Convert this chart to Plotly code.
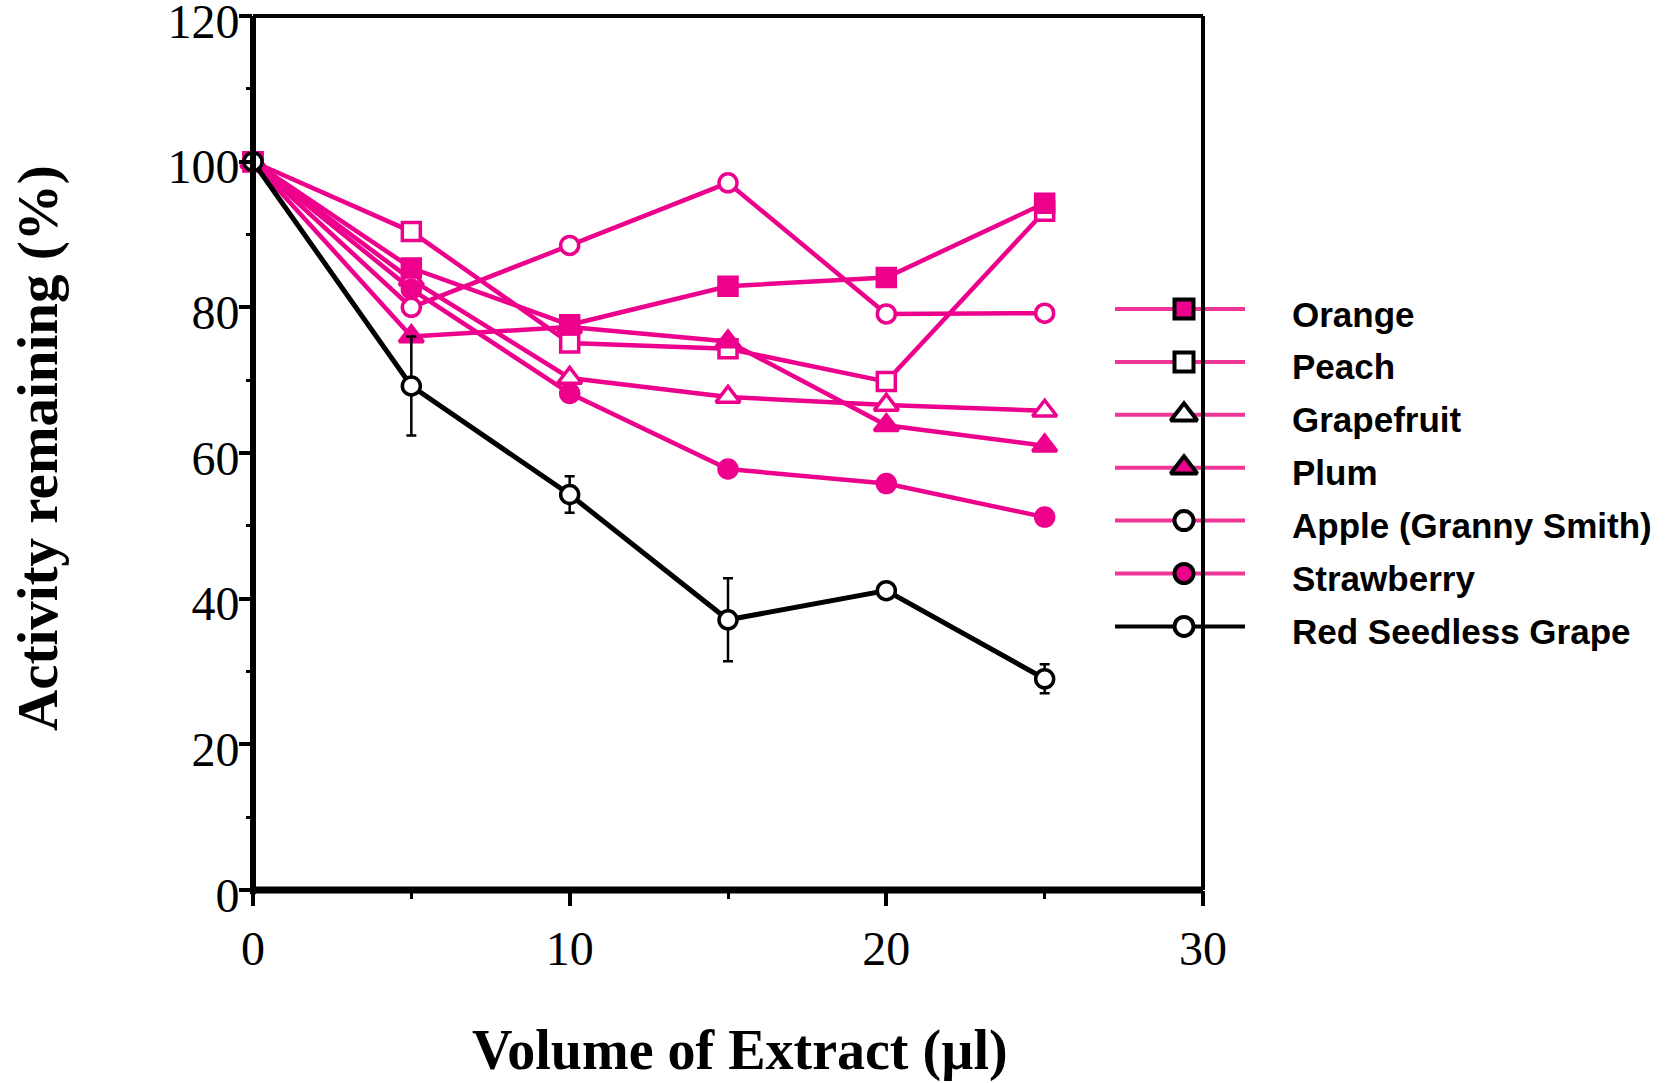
import plotly.graph_objects as go

# ---------------- data ----------------
volume = [0, 5, 10, 15, 20, 25]
orange = [100, 85.4, 77.6, 82.9, 84.1, 94.3]
peach = [100, 90.4, 75.1, 74.3, 69.8, 93.2]
grapefruit = [100, 83.8, 70.3, 67.7, 66.6, 65.8]
plum = [100, 76.0, 77.3, 75.3, 63.8, 61.0]
apple = [100, 80.0, 88.5, 97.1, 79.1, 79.2]
strawberry = [100, 82.5, 68.2, 57.8, 55.8, 51.2]
grape = [100, 69.2, 54.3, 37.1, 41.1, 29.0]
grape_err = [0, 6.8, 2.5, 5.7, 0, 2.0]

series_names = ["Orange", "Peach", "Grapefruit", "Plum",
                "Apple (Granny Smith)", "Strawberry", "Red Seedless Grape"]

x_ticks = [0, 10, 20, 30]
y_ticks = [0, 20, 40, 60, 80, 100, 120]

# ---------------- style ----------------
W, H = 1665, 1083
PINK = "#EC008C"
LEG_PINK = "#EF3596"
SERIF = "Liberation Serif, Times New Roman, serif"
SANS = "Liberation Sans, Arial, sans-serif"

def fx(px):  # window pixel -> paper fraction
    return px / W

def fy(py):
    return 1 - py / H

# plot area in window pixels
PX0, PX1 = 253, 1203
PY_TOP, PY_BOT = 16, 890

series = [
    ("Orange", orange, "square", PINK, 18),
    ("Peach", peach, "square", "white", 18),
    ("Grapefruit", grapefruit, "triangle-up", "white", 21),
    ("Plum", plum, "triangle-up", PINK, 21),
    ("Apple (Granny Smith)", apple, "circle", "white", 18),
    ("Strawberry", strawberry, "circle", PINK, 18),
]
draw_order = ["Peach", "Grapefruit", "Strawberry", "Plum", "Orange", "Apple (Granny Smith)"]

fig = go.Figure()
lookup = {s[0]: s for s in series}
for nm in draw_order:
    name, yv, sym, fill, sz = lookup[nm]
    fig.add_trace(go.Scatter(
        x=volume, y=yv, name=name, mode="lines+markers",
        line=dict(color=PINK, width=4.5),
        marker=dict(symbol=sym, size=sz, color=fill, line=dict(color=PINK, width=3.5)),
        cliponaxis=False, showlegend=False, xaxis="x", yaxis="y"))

fig.add_trace(go.Scatter(
    x=volume, y=grape, name="Red Seedless Grape", mode="lines+markers",
    line=dict(color="black", width=5),
    marker=dict(symbol="circle", size=18, color="white", line=dict(color="black", width=3.5)),
    error_y=dict(type="data", array=grape_err, visible=True, color="black", thickness=2.5, width=5),
    cliponaxis=False, showlegend=False, xaxis="x", yaxis="y"))

# ---------------- custom legend (pixel axes x2/y2, window coordinates) ----------------
leg_syms = {
    "Orange": ("square", PINK, 19),
    "Peach": ("square", "white", 19),
    "Grapefruit": ("triangle-up", "white", 23),
    "Plum": ("triangle-up", PINK, 23),
    "Apple (Granny Smith)": ("circle", "white", 19),
    "Strawberry": ("circle", PINK, 19),
    "Red Seedless Grape": ("circle", "white", 19),
}
row0, dy = 309, 52.9
annotations = []
for k, nm in enumerate(series_names):
    yy = row0 + k * dy
    lc = "black" if nm == "Red Seedless Grape" else LEG_PINK
    sym, fill, sz = leg_syms[nm]
    fig.add_trace(go.Scatter(
        x=[1115, 1245], y=[yy, yy], mode="lines", line=dict(color=lc, width=4),
        showlegend=False, hoverinfo="skip", xaxis="x2", yaxis="y2", cliponaxis=False))
    fig.add_trace(go.Scatter(
        x=[1184], y=[yy], mode="markers",
        marker=dict(symbol=sym, size=sz, color=fill, line=dict(color="black", width=4)),
        showlegend=False, hoverinfo="skip", xaxis="x2", yaxis="y2", cliponaxis=False))
    annotations.append(dict(
        text=nm, xref="paper", yref="paper", x=fx(1290), y=fy(yy + 5),
        xanchor="left", yanchor="middle", showarrow=False,
        font=dict(family=SANS, size=35, color="black", weight="bold")))

# axis titles
annotations.append(dict(
    text="Volume of Extract (µl)", xref="paper", yref="paper",
    x=fx(740), y=fy(1050), xanchor="center", yanchor="middle", showarrow=False,
    font=dict(family=SERIF, size=56, color="black", weight="bold")))
annotations.append(dict(
    text="Activity remaining (%)", xref="paper", yref="paper",
    x=fx(38), y=fy(448), xanchor="center", yanchor="middle", showarrow=False,
    textangle=-90,
    font=dict(family=SERIF, size=57, color="black", weight="bold")))

# frame lines
shapes = [
    dict(type="line", xref="x domain", yref="y domain", x0=0, x1=0, y0=-0.005, y1=1.0,
         line=dict(color="black", width=6)),
    dict(type="line", xref="x domain", yref="y domain", x0=0, x1=1, y0=0, y1=0,
         line=dict(color="black", width=7)),
    dict(type="line", xref="x domain", yref="y domain", x0=0, x1=1, y0=1, y1=1,
         line=dict(color="black", width=4)),
    dict(type="line", xref="x domain", yref="y domain", x0=1, x1=1, y0=0, y1=1,
         line=dict(color="black", width=4)),
]

tickfont = dict(family=SERIF, size=48, color="black")
fig.update_layout(
    width=W, height=H,
    margin=dict(l=0, r=0, t=0, b=0, autoexpand=False),
    paper_bgcolor="white", plot_bgcolor="rgba(0,0,0,0)",
    showlegend=False,
    xaxis=dict(domain=[fx(PX0), fx(PX1)], range=[0, 30], anchor="y", automargin=False,
               tickvals=x_ticks, ticktext=[str(v) for v in x_ticks],
               ticks="outside", ticklen=15, tickwidth=3.5, tickcolor="black",
               minor=dict(dtick=5, tick0=0, ticks="outside", ticklen=8, tickwidth=3, tickcolor="black", showgrid=False),
               showline=False, showgrid=False, zeroline=False,
               tickfont=tickfont, ticklabelstandoff=1, ticklabeloverflow="allow"),
    yaxis=dict(domain=[fy(PY_BOT), fy(PY_TOP)], range=[0, 120], anchor="x", automargin=False,
               tickvals=y_ticks, ticktext=[str(v) for v in y_ticks],
               ticks="outside", ticklen=13, tickwidth=3.5, tickcolor="black",
               minor=dict(dtick=10, tick0=0, ticks="outside", ticklen=6, tickwidth=3, tickcolor="black", showgrid=False),
               showline=False, showgrid=False, zeroline=False,
               tickfont=tickfont, ticklabelstandoff=-10, ticklabelshift=5,
               ticklabeloverflow="allow"),
    xaxis2=dict(domain=[0, 1], range=[0, W], anchor="y2", visible=False, fixedrange=True, automargin=False),
    yaxis2=dict(domain=[0, 1], range=[H, 0], anchor="x2", visible=False, fixedrange=True, automargin=False),
    annotations=annotations,
    shapes=shapes,
)

fig.write_html("out.html",
               config={"displayModeBar": False},
               post_script="document.body.style.margin='0px';document.body.style.overflow='hidden';")
